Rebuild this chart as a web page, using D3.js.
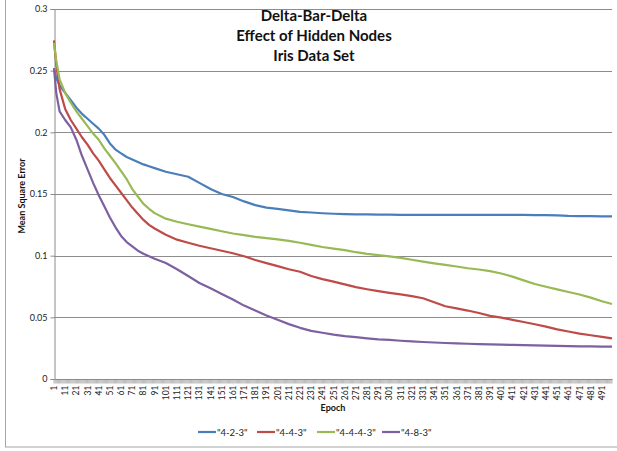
<!DOCTYPE html>
<html>
<head>
<meta charset="utf-8">
<script src="https://cdn.jsdelivr.net/npm/d3@7"></script>
<style>
  html, body { margin: 0; padding: 0; background: #fff; }
  svg { display: block; font-family: Lato, "Open Sans", sans-serif; }
</style>
</head>
<body>
<svg id="chart" width="617" height="451"></svg>
<script>
// Epochs at which the mean square error was recorded
const sampleEpochs = [1, 3, 6, 11, 16, 21, 26, 31, 36, 41, 46, 51, 56, 61, 66, 71, 76, 81, 86, 91,
  101, 111, 121, 131, 141, 151, 161, 171, 181, 191, 201, 211, 221, 231, 241, 251, 261, 271, 281, 291,
  301, 311, 321, 331, 341, 351, 361, 371, 381, 391, 401, 411, 421, 431, 441, 451, 461, 471, 481, 491, 500];

const mse423 = [0.252, 0.244, 0.238, 0.232, 0.226, 0.220, 0.215, 0.211, 0.207, 0.203, 0.198, 0.191, 0.186, 0.183, 0.180, 0.178, 0.176, 0.174, 0.1725, 0.171,
  0.168, 0.166, 0.164, 0.159, 0.154, 0.150, 0.1476, 0.144, 0.141, 0.139, 0.138, 0.1367, 0.1355, 0.135, 0.1344, 0.134, 0.1337, 0.1335, 0.1334, 0.1333,
  0.1332, 0.1331, 0.133, 0.133, 0.133, 0.133, 0.133, 0.133, 0.133, 0.133, 0.133, 0.133, 0.133, 0.1328, 0.1328, 0.1327, 0.1322, 0.1321, 0.132, 0.1319, 0.1318];

const mse443 = [0.2745, 0.255, 0.235, 0.219, 0.210, 0.203, 0.196, 0.190, 0.183, 0.177, 0.170, 0.163, 0.157, 0.151, 0.145, 0.139, 0.134, 0.129, 0.125, 0.122,
  0.117, 0.113, 0.1105, 0.108, 0.106, 0.104, 0.102, 0.0995, 0.0965, 0.094, 0.0915, 0.089, 0.087, 0.0835, 0.081, 0.079, 0.0767, 0.0745, 0.0728, 0.0712,
  0.0698, 0.0686, 0.0672, 0.0655, 0.0622, 0.059, 0.0572, 0.0555, 0.0535, 0.0512, 0.0497, 0.048, 0.0462, 0.0444, 0.0425, 0.0402, 0.0385, 0.0368, 0.0355, 0.0342, 0.033];

const mse4443 = [0.2725, 0.258, 0.243, 0.232, 0.224, 0.217, 0.211, 0.205, 0.199, 0.194, 0.187, 0.181, 0.175, 0.1685, 0.162, 0.154, 0.148, 0.142, 0.138, 0.1345,
  0.130, 0.1275, 0.1255, 0.1235, 0.1217, 0.1198, 0.118, 0.1167, 0.1153, 0.1142, 0.1132, 0.112, 0.1105, 0.1088, 0.107, 0.1057, 0.1045, 0.1028, 0.1015, 0.1005,
  0.0994, 0.0982, 0.0967, 0.0952, 0.0938, 0.0925, 0.0912, 0.0898, 0.0888, 0.0875, 0.0855, 0.083, 0.080, 0.077, 0.0748, 0.0727, 0.0705, 0.0685, 0.066, 0.063, 0.0608];

const mse483 = [0.252, 0.232, 0.217, 0.210, 0.204, 0.194, 0.181, 0.170, 0.159, 0.149, 0.140, 0.131, 0.123, 0.116, 0.111, 0.1075, 0.104, 0.1015, 0.0995, 0.0975,
  0.094, 0.089, 0.0835, 0.0778, 0.0735, 0.069, 0.0645, 0.0595, 0.0555, 0.0515, 0.048, 0.0445, 0.0415, 0.039, 0.0375, 0.036, 0.0348, 0.034, 0.033, 0.0322,
  0.0317, 0.031, 0.0305, 0.030, 0.0296, 0.0292, 0.0289, 0.0286, 0.0283, 0.028, 0.0278, 0.0276, 0.0274, 0.0272, 0.027, 0.0268, 0.0266, 0.0265, 0.0264, 0.0263, 0.0262];

const seriesNames = ['"4-2-3"', '"4-4-3"', '"4-4-4-3"', '"4-8-3"'];
const seriesColors = ["#4a7ebb", "#be4b48", "#98b954", "#7d60a0"];
const seriesValues = [mse423, mse443, mse4443, mse483];

// Category axis: one category per epoch, labelled every 10th
const epochs = d3.range(1, 501);
const epochLabels = epochs.filter(e => (e - 1) % 10 === 0);
const yTicks = [0, 0.05, 0.1, 0.15, 0.2, 0.25, 0.3];
const titleLines = ["Delta-Bar-Delta", "Effect of Hidden Nodes", "Iris Data Set"];

const svg = d3.select("#chart");
const plot = { left: 54, right: 612, top: 9, bottom: 379 };
const gridColor = "#8c8c8c";

// Chart frame
svg.append("rect").attr("x", 5.5).attr("y", -10).attr("width", 640).attr("height", 457)
  .attr("fill", "#fff").attr("stroke", "#a6a6a6").attr("stroke-width", 1);

const x = d3.scalePoint().domain(epochs).range([plot.left, plot.right]);
const y = d3.scaleLinear().domain([0, 0.3]).range([plot.bottom, plot.top]);

// Horizontal gridlines
svg.append("g").selectAll("line").data(yTicks.filter(t => t > 0)).join("line")
  .attr("x1", plot.left).attr("x2", plot.right)
  .attr("y1", d => Math.round(y(d)) + 0.5).attr("y2", d => Math.round(y(d)) + 0.5)
  .attr("stroke", gridColor).attr("stroke-width", 1);

// Value axis
const yAxis = svg.append("g").attr("transform", `translate(${plot.left + 0.5},0)`)
  .call(d3.axisLeft(y).tickValues(yTicks).tickSize(4).tickPadding(3).tickFormat(d => d3.format("")(+d.toFixed(2))));
yAxis.select(".domain").attr("stroke", gridColor);
yAxis.selectAll(".tick line").attr("stroke", gridColor);
yAxis.selectAll(".tick text").attr("font-size", 9).attr("fill", "#222").attr("font-family", "Lato, sans-serif");

// Category axis with a tick per epoch
const xAxisG = svg.append("g").attr("transform", `translate(0,${plot.bottom + 0.5})`);
xAxisG.append("line").attr("x1", plot.left).attr("x2", plot.right + 0.5)
  .attr("stroke", gridColor);
xAxisG.selectAll("line.tk").data(epochs).join("line").attr("class", "tk")
  .attr("x1", d => x(d)).attr("x2", d => x(d)).attr("y1", 0).attr("y2", 4)
  .attr("stroke", gridColor).attr("stroke-width", 0.6);
xAxisG.selectAll("text").data(epochLabels).join("text")
  .attr("transform", d => `translate(${x(d) + 3},6) rotate(-90)`)
  .attr("text-anchor", "end")
  .attr("font-size", 8.5).attr("fill", "#222")
  .text(d => d);

// Series lines
const line = d3.line()
  .x((d, i) => x(sampleEpochs[i]))
  .y(d => y(d));
svg.append("g").selectAll("path").data(seriesValues).join("path")
  .attr("d", d => line(d))
  .attr("fill", "none")
  .attr("stroke", (d, i) => seriesColors[i])
  .attr("stroke-width", 2.2)
  .attr("stroke-linejoin", "round");

// Title
svg.append("g").selectAll("text").data(titleLines).join("text")
  .attr("x", 314).attr("y", (d, i) => 20.5 + i * 20.3)
  .attr("text-anchor", "middle").attr("font-size", 15).attr("font-weight", "bold").attr("fill", "#111")
  .text(d => d);

// Axis titles
svg.append("text").attr("transform", "translate(25,196) rotate(-90)")
  .attr("text-anchor", "middle").attr("font-size", 9).attr("font-weight", "bold").attr("fill", "#111")
  .text("Mean Square Error");
svg.append("text").attr("x", 333).attr("y", 411)
  .attr("text-anchor", "middle").attr("font-size", 9).attr("font-weight", "bold").attr("fill", "#111")
  .text("Epoch");

// Legend
const legendX = [198, 257, 317, 382];
const lg = svg.append("g").selectAll("g").data(seriesNames).join("g")
  .attr("transform", (d, i) => `translate(${legendX[i]},432)`);
lg.append("line").attr("x1", 0).attr("x2", 18).attr("y1", 0).attr("y2", 0)
  .attr("stroke", (d, i) => seriesColors[i]).attr("stroke-width", 2.2);
lg.append("text").attr("x", 19).attr("y", 3.5).attr("font-size", 9.5).attr("fill", "#222")
  .text(d => d);
</script>
</body>
</html>
